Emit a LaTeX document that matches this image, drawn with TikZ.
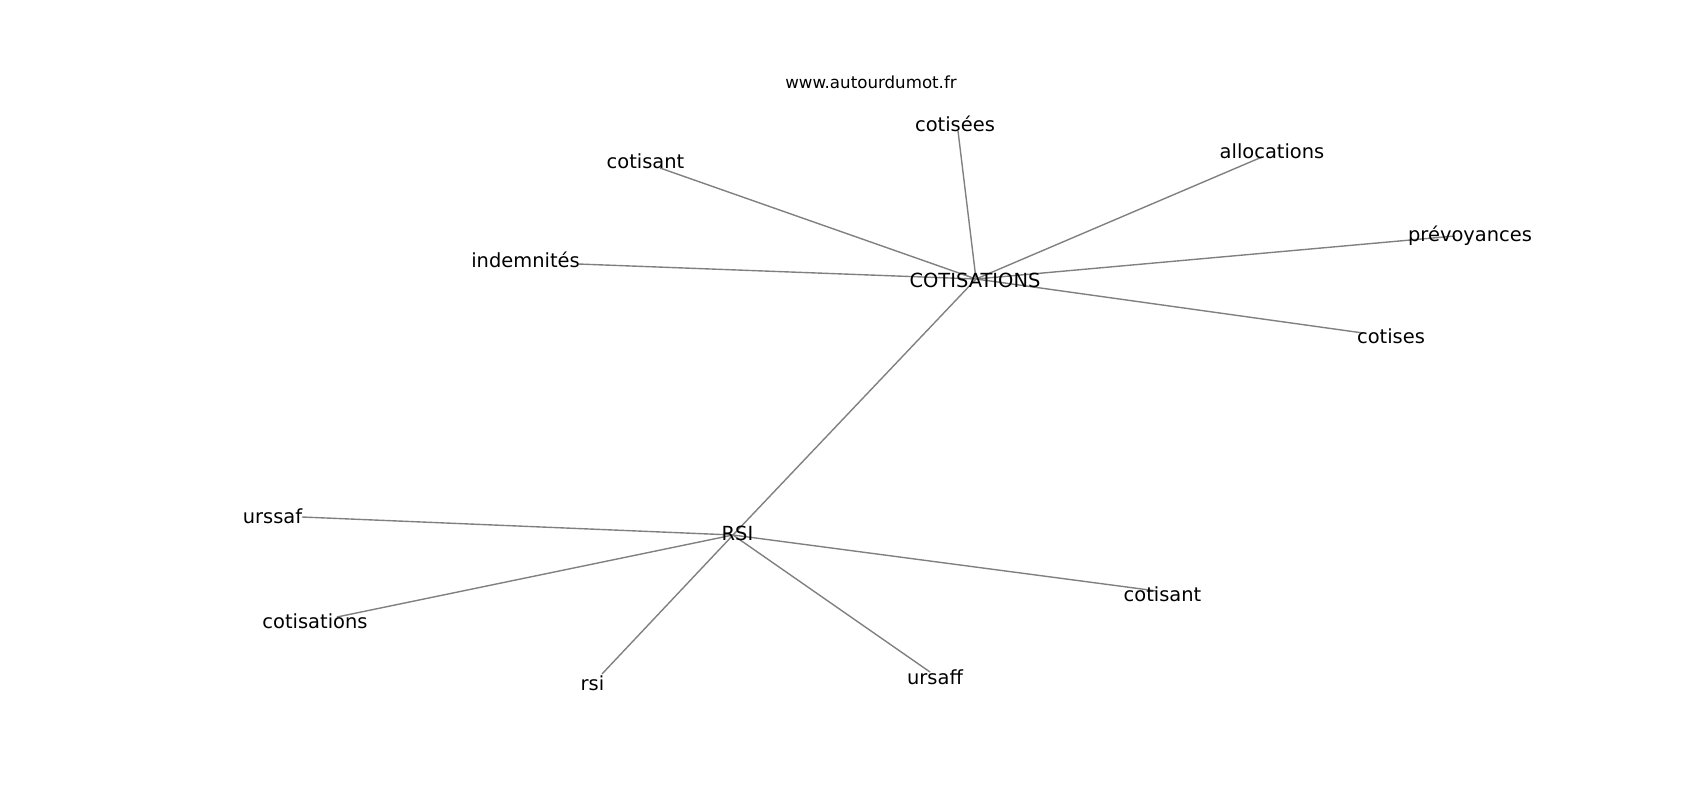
\documentclass[tikz,border=0pt]{standalone}
\usepackage{fontspec}
\setmainfont{DejaVu Sans}
\begin{document}
\begin{tikzpicture}[x=0.72pt,y=-0.72pt,
  lbl/.style={inner sep=0pt,anchor=base,font=\fontsize{14pt}{16pt}\selectfont,text=black},
  small/.style={inner sep=0pt,anchor=base,font=\fontsize{12pt}{14pt}\selectfont,text=black},
  edge/.style={draw=gray,line width=1pt}]
\useasboundingbox[fill=white] (0,0) rectangle (1700,800);
% edge end points (graph node positions)
\coordinate (pC) at (976,279);
\coordinate (pR) at (733,535);
\coordinate (pCotisees) at (958,131);
\coordinate (pCotisantA) at (660,168);
\coordinate (pAlloc) at (1262,157);
\coordinate (pPrev) at (1455,236);
\coordinate (pIndem) at (578,264);
\coordinate (pCotises) at (1363,333);
\coordinate (pUrssaf) at (302,517);
\coordinate (pCotisations) at (337,617);
\coordinate (pRsi) at (602,674);
\coordinate (pUrsaff) at (930,672);
\coordinate (pCotisantB) at (1157,591);
% edges
\draw[edge] (pC) -- (pR);
\draw[edge] (pC) -- (pCotisees);
\draw[edge] (pC) -- (pCotisantA);
\draw[edge] (pC) -- (pAlloc);
\draw[edge] (pC) -- (pPrev);
\draw[edge] (pC) -- (pIndem);
\draw[edge] (pC) -- (pCotises);
\draw[edge] (pR) -- (pUrssaf);
\draw[edge] (pR) -- (pCotisations);
\draw[edge] (pR) -- (pRsi);
\draw[edge] (pR) -- (pUrsaff);
\draw[edge] (pR) -- (pCotisantB);
% labels
\node[small] (www) at (871,88) {www.autourdumot.fr};
\node[lbl] (lCotisees) at (955,131) {cotisées};
\node[lbl] (lCotisantA) at (645.5,168) {cotisant};
\node[lbl] (lAlloc) at (1272,158) {allocations};
\node[lbl] (lPrev) at (1470,241.5) {prévoyances};
\node[lbl] (lIndem) at (525.5,267) {indemnités};
\node[lbl] (lC) at (975,287) {COTISATIONS};
\node[lbl] (lCotises) at (1391,343) {cotises};
\node[lbl] (lUrssaf) at (272.5,523) {urssaf};
\node[lbl] (lR) at (737.5,540) {RSI};
\node[lbl] (lCotisantB) at (1162.5,601) {cotisant};
\node[lbl] (lCotisations) at (315,628) {cotisations};
\node[lbl] (lRsi) at (592.5,690) {rsi};
\node[lbl] (lUrsaff) at (935,684) {ursaff};
\end{tikzpicture}
\end{document}
